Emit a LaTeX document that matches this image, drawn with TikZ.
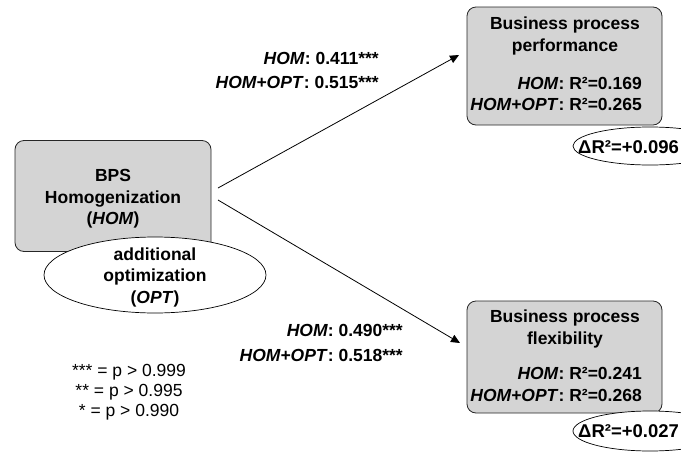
\documentclass[tikz,border=0pt]{standalone}
\usepackage{fontspec}
\setmainfont{Liberation Sans}
\usetikzlibrary{arrows.meta,shapes.geometric}
\definecolor{boxgray}{HTML}{D4D4D4}
\begin{document}
\begin{tikzpicture}[x=1pt,y=-1pt,
  every node/.style={font=\fontsize{17.5}{21.5}\selectfont\bfseries, inner sep=0pt},
  gbox/.style={draw=black!85, fill=boxgray, rounded corners=9pt, line width=0.8pt},
  oval/.style={draw=black, fill=white, ellipse, line width=0.7pt},
  arr/.style={-{Triangle[length=9pt,width=8pt]}, line width=0.8pt},
  lbl/.style={anchor=east},
  dtxt/.style={anchor=west, font=\fontsize{18.5}{22}\selectfont\bfseries},
  legend/.style={font=\fontsize{17.5}{20}\selectfont, align=center}
]
\useasboundingbox (0,0) rectangle (681,453);
% left construct
\node[gbox, minimum width=196pt, minimum height=111pt] (hom) at (113,196) {};
\node[align=center] (homtxt) at (113,199) {BPS\\Homogenization\\(\textit{HOM})};
\node[oval, minimum width=222pt, minimum height=76pt] (opt) at (155,275) {};
\node[align=center] (opttxt) at (155,277) {additional\\optimization\\(\textit{OPT})};
% top right
\node[gbox, minimum width=195pt, minimum height=118pt] (bpp) at (564.5,66) {};
\node[align=center] (bpptxt) at (565,36) {Business process\\performance};
\node[lbl] (bppa) at (642,83) {\textit{HOM}: R²=0.169};
\node[lbl] (bppb) at (642,104) {\textit{HOM+OPT}: R²=0.265};
\node[oval, minimum width=154pt, minimum height=38pt] (d1) at (650,146) {};
\node[dtxt] (d1txt) at (578,147) {ΔR²=+0.096};
% bottom right
\node[gbox, minimum width=195pt, minimum height=112pt] (bpf) at (564.5,357) {};
\node[align=center] (bpftxt) at (565,329) {Business process\\flexibility};
\node[lbl] (bpfa) at (642,373) {\textit{HOM}: R²=0.241};
\node[lbl] (bpfb) at (642,395) {\textit{HOM+OPT}: R²=0.268};
\node[oval, minimum width=154pt, minimum height=40pt] (d2) at (650,431) {};
\node[dtxt] (d2txt) at (578,431) {ΔR²=+0.027};
% connectors
\coordinate (s1) at (218,188);
\coordinate (e1) at (459,55);
\coordinate (s2) at (218,200);
\coordinate (e2) at (460,343);
\draw[arr] (s1) -- (e1);
\draw[arr] (s2) -- (e2);
% path labels
\node[lbl] (l1a) at (379,58) {\textit{HOM}: 0.411***};
\node[lbl] (l1b) at (379,82) {\textit{HOM+OPT}: 0.515***};
\node[lbl] (l2a) at (403,330) {\textit{HOM}: 0.490***};
\node[lbl] (l2b) at (403,355) {\textit{HOM+OPT}: 0.518***};
% legend
\node[legend] (leg) at (129,392) {*** = p > 0.999\\** = p > 0.995\\* = p > 0.990};
\end{tikzpicture}
\end{document}
